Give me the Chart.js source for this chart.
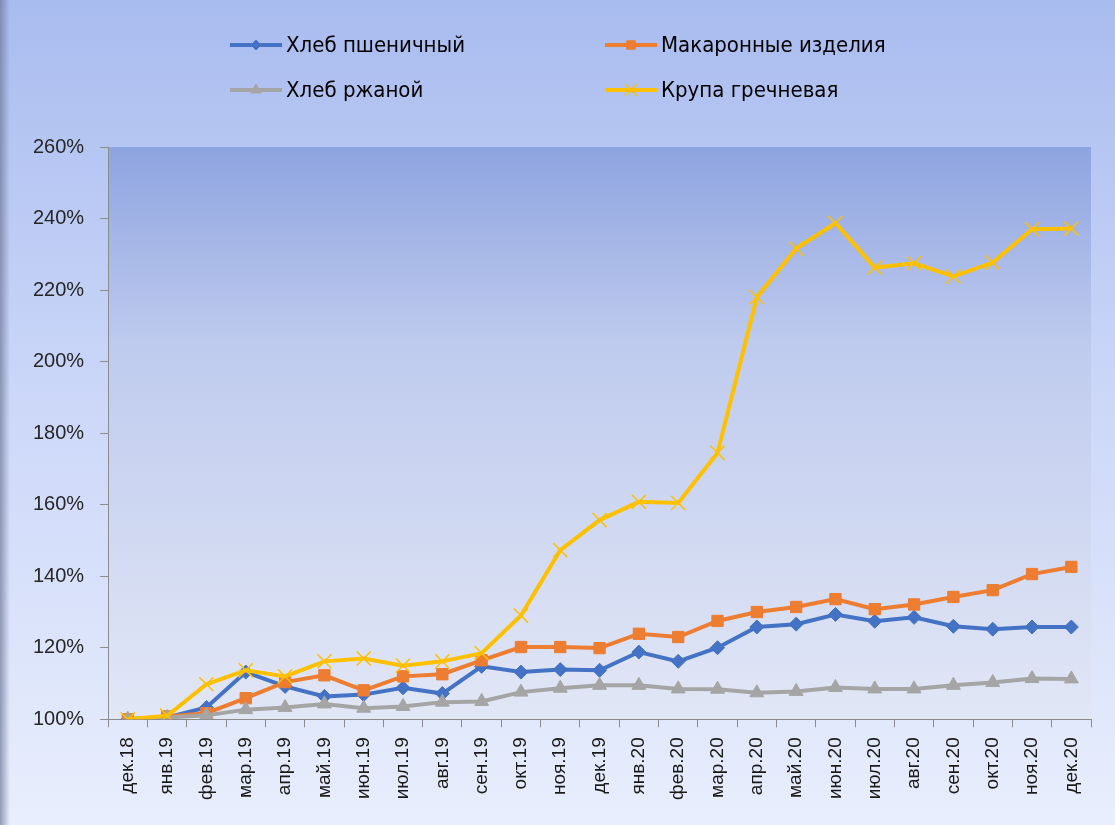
<!DOCTYPE html>
<html>
<head>
<meta charset="utf-8">
<script src="https://cdn.jsdelivr.net/npm/chart.js@4/dist/chart.umd.min.js"></script>
<style>
  html, body { margin: 0; padding: 0; background: #fff; }
  #wrap { width: 1115px; height: 825px; position: relative; }
</style>
</head>
<body>
<div id="wrap"><canvas id="myChart"></canvas></div>
<script>
const labels = [
  "дек.18", "янв.19", "фев.19", "мар.19", "апр.19", "май.19", "июн.19",
  "июл.19", "авг.19", "сен.19", "окт.19", "ноя.19", "дек.19", "янв.20",
  "фев.20", "мар.20", "апр.20", "май.20", "июн.20", "июл.20", "авг.20",
  "сен.20", "окт.20", "ноя.20", "дек.20"
];

const wheatBread = [100, 100.5, 103.3, 113.2, 109.2, 106.4, 106.9, 108.8, 107.2, 114.8, 113.2, 113.9, 113.7,
  118.8, 116.2, 120, 125.8, 126.6, 129.3, 127.4, 128.5, 126, 125.2, 125.8, 125.8];
const pasta = [100, 100.8, 101.7, 105.9, 110.4, 112.3, 108.1, 112, 112.6, 116.5, 120.2, 120.2, 119.9,
  123.9, 123, 127.5, 130, 131.4, 133.6, 130.8, 132.1, 134.2, 136.1, 140.6, 142.6];
const ryeBread = [100, 100.5, 101.1, 102.7, 103.3, 104.3, 103.1, 103.6, 104.8, 105, 107.6, 108.7, 109.5,
  109.5, 108.5, 108.4, 107.4, 107.8, 108.9, 108.5, 108.5, 109.5, 110.3, 111.4, 111.3];
const buckwheat = [100, 101, 109.8, 113.7, 112, 116.2, 117, 115, 116.2, 118.5, 129, 147.3, 155.7,
  160.8, 160.5, 174.5, 218, 231.6, 238.7, 226.3, 227.5, 223.8, 227.7, 237, 237.2];

const yTicks = [100, 120, 140, 160, 180, 200, 220, 240, 260];

// фон всей диаграммы и области построения
const backgroundPlugin = {
  id: "bg",
  beforeDraw(chart) {
    const { ctx, width, height, chartArea: a } = chart;
    ctx.save();
    let g = ctx.createLinearGradient(0, 0, 0, height);
    g.addColorStop(0, "#a9bcef");
    g.addColorStop(0.5, "#cdd8f9");
    g.addColorStop(1, "#e8eefc");
    ctx.fillStyle = g;
    ctx.fillRect(0, 0, width, height);
    g = ctx.createLinearGradient(0, 0, 10, 0);
    g.addColorStop(0, "rgba(110,120,150,0.7)");
    g.addColorStop(1, "rgba(110,120,150,0)");
    ctx.fillStyle = g;
    ctx.fillRect(0, 0, 10, height);
    g = ctx.createLinearGradient(0, a.top, 0, a.bottom);
    g.addColorStop(0, "#8ea4e0");
    g.addColorStop(0.35, "#bfcbee");
    g.addColorStop(1, "#e2e7f6");
    ctx.fillStyle = g;
    ctx.fillRect(a.left, a.top, a.right - a.left, a.bottom - a.top);
    ctx.restore();
  }
};

const legendOrder = ["Хлеб пшеничный", "Макаронные изделия", "Хлеб ржаной", "Крупа гречневая"];

// легенда в две колонки, как в оригинале
const legendPlugin = {
  id: "twoColLegend",
  afterDraw(chart) {
    const { ctx } = chart;
    const spots = [[230, 45], [605, 45], [230, 90], [605, 90]];
    ctx.save();
    legendOrder.forEach((name, i) => {
      const ds = chart.data.datasets.find(d => d.label === name);
      const [x, y] = spots[i];
      ctx.strokeStyle = ds.borderColor;
      ctx.fillStyle = ds.borderColor;
      ctx.lineWidth = 4;
      ctx.beginPath();
      ctx.moveTo(x, y);
      ctx.lineTo(x + 52, y);
      ctx.stroke();
      ctx.lineWidth = ds.pointBorderWidth;
      Chart.helpers.drawPoint(ctx, {
        pointStyle: ds.pointStyle,
        radius: ds.pointRadius - 2,
        borderWidth: ds.pointBorderWidth
      }, x + 26, y);
      ctx.fillStyle = "#000";
      ctx.font = "22px 'Liberation Sans Narrow', 'DejaVu Sans Condensed', sans-serif";
      ctx.textBaseline = "middle";
      ctx.fillText(ds.label, x + 56, y + 1);
    });
    ctx.restore();
  }
};

function series(label, values, color, style, radius) {
  return {
    label: label,
    data: values,
    borderColor: color,
    backgroundColor: color,
    pointBackgroundColor: color,
    pointBorderColor: color,
    pointStyle: style,
    pointRadius: radius,
    pointBorderWidth: style === "crossRot" ? 1.5 : 1,
    borderWidth: 4,
    tension: 0
  };
}

// гречка первой, чтобы рисовалась под остальными линиями
const data = {
  labels: labels,
  datasets: [
    series("Крупа гречневая", buckwheat, "#ffc000", "crossRot", 10),
    series("Хлеб ржаной", ryeBread, "#a5a5a5", "triangle", 8),
    series("Макаронные изделия", pasta, "#ed7d31", "rect", 8),
    series("Хлеб пшеничный", wheatBread, "#4472c4", "rectRot", 7)
  ]
};

const config = {
  type: "line",
  data: data,
  options: {
    responsive: true,
    maintainAspectRatio: false,
    animation: false,
    layout: { padding: { top: 147, left: 17, right: 24, bottom: 15 } },
    plugins: {
      legend: { display: false },
      tooltip: { enabled: false }
    },
    scales: {
      x: {
        offset: true,
        grid: { drawOnChartArea: false, offset: true, tickLength: 8, color: "#8c8c8c" },
        border: { color: "#8c8c8c" },
        ticks: {
          autoSkip: false,
          minRotation: 90,
          maxRotation: 90,
          color: "#1a1a1a",
          padding: 10,
          font: { family: "'Liberation Sans', sans-serif", size: 19 }
        }
      },
      y: {
        min: 100,
        max: 260,
        afterBuildTicks(scale) {
          scale.ticks = yTicks.map(v => ({ value: v }));
        },
        grid: { drawOnChartArea: false, tickLength: 8, color: "#8c8c8c" },
        border: { color: "#8c8c8c" },
        ticks: {
          color: "#262626",
          padding: 16,
          font: { family: "'Liberation Sans', sans-serif", size: 20 },
          callback: v => v + "%"
        }
      }
    }
  },
  plugins: [backgroundPlugin, legendPlugin]
};

const ctx = document.getElementById("myChart").getContext("2d");
new Chart(ctx, config);
</script>
</body>
</html>
